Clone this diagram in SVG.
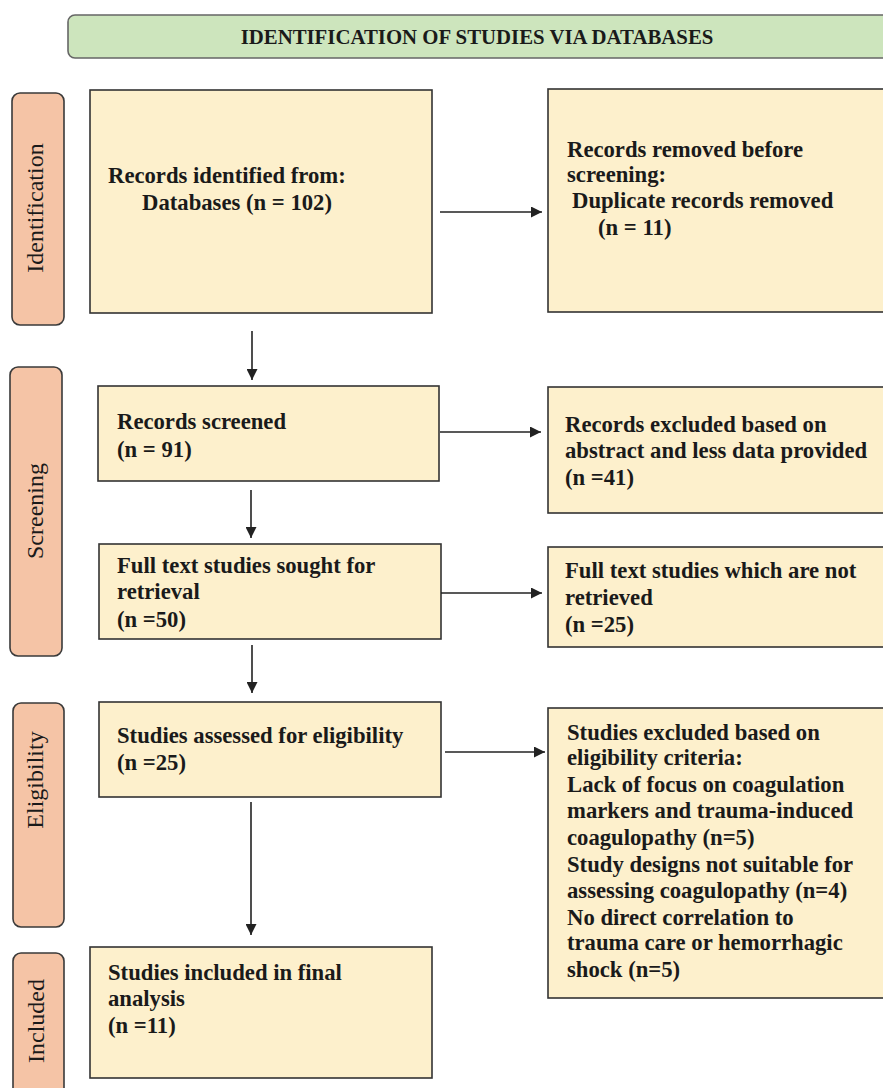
<svg xmlns="http://www.w3.org/2000/svg" width="883" height="1088" viewBox="0 0 883 1088">
<style>
.box{fill:#FDF0CC;stroke:#333;stroke-width:1.6}
.side{fill:#F5C4A6;stroke:#3a3a3a;stroke-width:1.6}
.hdr{fill:#CDE5BD;stroke:#666;stroke-width:1.6}
.t{font-family:"Liberation Serif","Times New Roman",serif;font-weight:bold;font-size:22.7px;fill:#1a1a1a}
.s{font-family:"Liberation Serif","Times New Roman",serif;font-size:24px;fill:#1a1a1a;text-anchor:middle}
.h{font-family:"Liberation Serif","Times New Roman",serif;font-weight:bold;font-size:20.8px;fill:#1a1a1a;text-anchor:middle}
.c{stroke:#222;stroke-width:1.6;fill:none;marker-end:url(#ah)}
</style>
<defs>
<marker id="ah" viewBox="0 0 10 10" refX="10" refY="5" markerWidth="11" markerHeight="11" markerUnits="userSpaceOnUse" orient="auto">
<path d="M0,0 L10,5 L0,10 z" fill="#222"/>
</marker>
</defs>
<rect width="883" height="1088" fill="#fff"/>
<g id="header">
<rect class="hdr" x="68" y="15" width="830" height="43" rx="7"/>
<text class="h" x="477" y="44">IDENTIFICATION OF STUDIES VIA DATABASES</text>
</g>
<g id="lbl-identification">
<rect class="side" x="12" y="93" width="52" height="232" rx="8"/>
<text class="s" transform="translate(43,208) rotate(-90)">Identification</text>
</g>
<g id="lbl-screening">
<rect class="side" x="10" y="367" width="52" height="289" rx="8"/>
<text class="s" transform="translate(43,511) rotate(-90)">Screening</text>
</g>
<g id="lbl-eligibility">
<rect class="side" x="13" y="703" width="51" height="224" rx="8"/>
<text class="s" transform="translate(43,780) rotate(-90)">Eligibility</text>
</g>
<g id="lbl-included">
<rect class="side" x="13" y="953" width="51" height="150" rx="8"/>
<text class="s" transform="translate(44,1021) rotate(-90)">Included</text>
</g>
<g id="n-identified">
<rect class="box" x="90" y="90" width="342" height="223"/>
<text class="t" x="108" y="183">Records identified from:</text>
<text class="t" x="142" y="210">Databases (n = 102)</text>
</g>
<g id="n-removed">
<rect class="box" x="548" y="89" width="345" height="223"/>
<text class="t" x="567" y="157">Records removed before</text>
<text class="t" x="567" y="182">screening:</text>
<text class="t" x="572" y="208">Duplicate records removed</text>
<text class="t" x="598" y="235">(n = 11)</text>
</g>
<g id="n-screened">
<rect class="box" x="98" y="386" width="341" height="95"/>
<text class="t" x="117" y="429">Records screened</text>
<text class="t" x="117" y="457">(n = 91)</text>
</g>
<g id="n-excluded">
<rect class="box" x="548" y="387" width="345" height="126"/>
<text class="t" x="565" y="432">Records excluded based on</text>
<text class="t" x="565" y="458">abstract and less data provided</text>
<text class="t" x="565" y="485">(n =41)</text>
</g>
<g id="n-sought">
<rect class="box" x="99" y="544" width="342" height="95"/>
<text class="t" x="117" y="573">Full text studies sought for</text>
<text class="t" x="117" y="599">retrieval</text>
<text class="t" x="117" y="627">(n =50)</text>
</g>
<g id="n-notretrieved">
<rect class="box" x="548" y="547" width="345" height="100"/>
<text class="t" x="565" y="578">Full text studies which are not</text>
<text class="t" x="565" y="605">retrieved</text>
<text class="t" x="565" y="632">(n =25)</text>
</g>
<g id="n-assessed">
<rect class="box" x="99" y="702" width="342" height="95"/>
<text class="t" x="117" y="743">Studies assessed for eligibility</text>
<text class="t" x="117" y="770">(n =25)</text>
</g>
<g id="n-excl-elig">
<rect class="box" x="548" y="708" width="345" height="290"/>
<text class="t" x="567" y="740">Studies excluded based on</text>
<text class="t" x="567" y="765">eligibility criteria:</text>
<text class="t" x="567" y="792">Lack of focus on coagulation</text>
<text class="t" x="567" y="818">markers and trauma-induced</text>
<text class="t" x="567" y="845">coagulopathy (n=5)</text>
<text class="t" x="567" y="872">Study designs not suitable for</text>
<text class="t" x="567" y="898">assessing coagulopathy (n=4)</text>
<text class="t" x="567" y="925">No direct correlation to</text>
<text class="t" x="567" y="950">trauma care or hemorrhagic</text>
<text class="t" x="567" y="977">shock (n=5)</text>
</g>
<g id="n-included">
<rect class="box" x="90" y="947" width="342" height="131"/>
<text class="t" x="108" y="980">Studies included in final</text>
<text class="t" x="108" y="1006">analysis</text>
<text class="t" x="108" y="1033">(n =11)</text>
</g>
<g id="connectors">
<line class="c" x1="252" y1="331" x2="252" y2="380"/>
<line class="c" x1="251" y1="490" x2="251" y2="538"/>
<line class="c" x1="252" y1="645" x2="252" y2="693"/>
<line class="c" x1="251" y1="802" x2="251" y2="935"/>
<line class="c" x1="440" y1="212" x2="542" y2="212"/>
<line class="c" x1="440" y1="432" x2="541" y2="432"/>
<line class="c" x1="441" y1="593" x2="542" y2="593"/>
<line class="c" x1="445" y1="752" x2="545" y2="752"/>
</g>
</svg>
